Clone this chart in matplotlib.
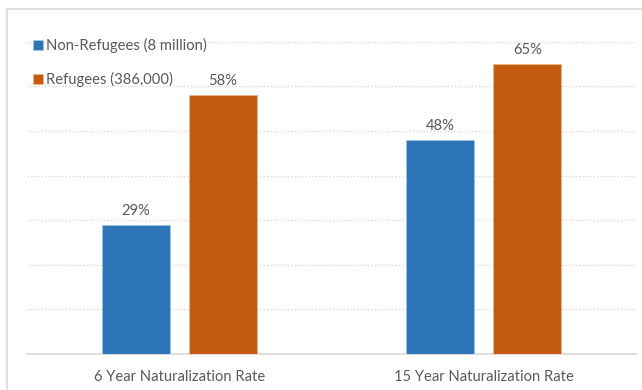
import matplotlib.pyplot as plt
import numpy as np
from matplotlib.patches import Rectangle

categories = ["6 Year Naturalization Rate", "15 Year Naturalization Rate"]
series_names = ["Non-Refugees (8 million)", "Refugees (386,000)"]
non_refugees = [29, 48]
refugees = [58, 65]

blue = "#2E75B6"
orange = "#C55A11"
grey_text = "#595959"
grid_col = "#D9D9D9"

plt.rcParams["font.family"] = ["Lato", "DejaVu Sans"]

fig = plt.figure(figsize=(6.42, 3.9), dpi=100)
ax = fig.add_axes([27 / 642, 1 - 354 / 390, 609 / 642, (354 - 41.7) / 390])

# outer chart border
fig.patches.append(Rectangle((7 / 642, -0.1), 1.2, 1.1 - 9 / 390,
                             transform=fig.transFigure, fill=False,
                             edgecolor=grid_col, linewidth=1.2))

x = np.arange(len(categories))
w = 0.224
off = 0.143
b1 = ax.bar(x - off, non_refugees, w, color=blue, edgecolor="#9DC3E6",
            linewidth=0.6, label=series_names[0], zorder=3)
b2 = ax.bar(x + off, refugees, w, color=orange, edgecolor="#F4B183",
            linewidth=0.6, label=series_names[1], zorder=3)

for bars, vals in ((b1, non_refugees), (b2, refugees)):
    ax.bar_label(bars, labels=[f"{v}%" for v in vals], padding=5,
                 fontsize=10.6, color=grey_text)

ax.set_xlim(-0.5, 1.5)
ax.set_ylim(0, 70)
ax.set_yticks(np.arange(10, 71, 10))
ax.yaxis.grid(True, linestyle=(0, (1, 1.5)), color=grid_col, linewidth=1, zorder=0)
ax.tick_params(axis="y", left=False, labelleft=False)
ax.tick_params(axis="x", bottom=False, pad=8, labelsize=10.6, labelcolor=grey_text)
ax.set_xticks(x)
ax.set_xticklabels(categories)

for s in ("top", "left", "right"):
    ax.spines[s].set_visible(False)
ax.spines["bottom"].set_color(grid_col)
ax.spines["bottom"].set_linewidth(1.2)

leg = ax.legend(loc="upper left", bbox_to_anchor=(0.0, 1.03), frameon=False,
                fontsize=10.6, handlelength=0.7, handleheight=0.7,
                handletextpad=0.2, labelspacing=1.3, borderaxespad=0)
for t in leg.get_texts():
    t.set_color(grey_text)

fig.savefig("out.png", dpi=100)
